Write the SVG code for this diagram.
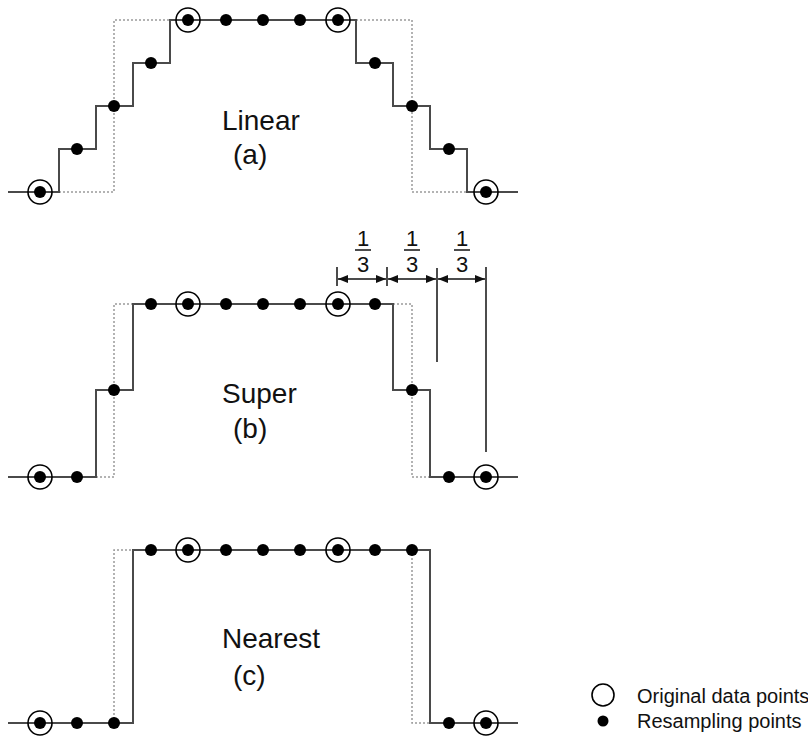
<svg xmlns="http://www.w3.org/2000/svg" width="808" height="736" viewBox="0 0 808 736">
<defs>
<style>
.step{fill:none;stroke:#4a4a4a;stroke-width:2}
.dot{fill:none;stroke:#9a9a9a;stroke-width:1.5;stroke-dasharray:2 2}
.orig{fill:none;stroke:#000;stroke-width:1.6}
.res{fill:#000}
.lbl{font-family:"Liberation Sans",Arial,sans-serif;font-size:28px;fill:#111}
.frac{font-family:"Liberation Sans",Arial,sans-serif;font-size:22px;fill:#111;text-anchor:middle}
.leg{font-family:"Liberation Sans",Arial,sans-serif;font-size:20px;fill:#111}
.dim{stroke:#111;stroke-width:1.5;fill:none}
</style>
<marker id="ah" viewBox="0 0 10 8" refX="10" refY="4" markerWidth="10" markerHeight="8" markerUnits="userSpaceOnUse" orient="auto-start-reverse">
<path d="M0,0 L10,4 L0,8 z" fill="#111"/>
</marker>
</defs>
<rect width="808" height="736" fill="#fff"/>

<g id="connectors">
<!-- panel a -->
<path class="dot" d="M59,192 H114 V20 H170 M356,20 H412 V192 H467"/>
<path class="step" d="M8,192 H59 V149 H96 V106 H133 V63 H170 V20 H356 V63 H393 V106 H430 V149 H467 V192 H518"/>
<!-- panel b -->
<path class="dot" d="M96,477 H114 V304 H133 M393,304 H412 V477 H430"/>
<path class="step" d="M8,477 H96 V390 H133 V304 H393 V390 H430 V477 H518"/>
<!-- panel c -->
<path class="dot" d="M114,723 V550 H133 M412,550 V723 H430"/>
<path class="step" d="M8,723 H133 V550 H430 V723 H518"/>
</g>

<g id="panel-a">
<circle class="orig" cx="40" cy="192" r="12"/><circle class="orig" cx="188" cy="20" r="12"/><circle class="orig" cx="338" cy="20" r="12"/><circle class="orig" cx="486" cy="192" r="12"/>
<circle class="res" cx="40" cy="192" r="6"/><circle class="res" cx="77" cy="149" r="6"/><circle class="res" cx="114" cy="106" r="6"/><circle class="res" cx="151" cy="63" r="6"/><circle class="res" cx="188" cy="20" r="6"/><circle class="res" cx="226" cy="20" r="6"/><circle class="res" cx="263" cy="20" r="6"/><circle class="res" cx="300" cy="20" r="6"/><circle class="res" cx="338" cy="20" r="6"/><circle class="res" cx="375" cy="63" r="6"/><circle class="res" cx="412" cy="106" r="6"/><circle class="res" cx="449" cy="149" r="6"/><circle class="res" cx="486" cy="192" r="6"/>
<text class="lbl" x="222" y="130">Linear</text>
<text class="lbl" x="233" y="164">(a)</text>
</g>

<g id="panel-b">
<circle class="orig" cx="40" cy="477" r="12"/><circle class="orig" cx="188" cy="304" r="12"/><circle class="orig" cx="338" cy="304" r="12"/><circle class="orig" cx="486" cy="477" r="12"/>
<circle class="res" cx="40" cy="477" r="6"/><circle class="res" cx="77" cy="477" r="6"/><circle class="res" cx="114" cy="390" r="6"/><circle class="res" cx="151" cy="304" r="6"/><circle class="res" cx="188" cy="304" r="6"/><circle class="res" cx="226" cy="304" r="6"/><circle class="res" cx="263" cy="304" r="6"/><circle class="res" cx="300" cy="304" r="6"/><circle class="res" cx="338" cy="304" r="6"/><circle class="res" cx="375" cy="304" r="6"/><circle class="res" cx="412" cy="390" r="6"/><circle class="res" cx="449" cy="477" r="6"/><circle class="res" cx="486" cy="477" r="6"/>
<text class="lbl" x="222" y="403">Super</text>
<text class="lbl" x="233" y="438">(b)</text>
</g>

<g id="dimensions">
<line class="dim" x1="337" y1="267" x2="337" y2="286"/>
<line class="dim" x1="387" y1="267" x2="387" y2="286"/>
<line class="dim" x1="437" y1="268" x2="437" y2="362"/>
<line class="dim" x1="486" y1="267" x2="486" y2="452"/>
<line class="dim" x1="338" y1="279" x2="386" y2="279" marker-start="url(#ah)" marker-end="url(#ah)"/>
<line class="dim" x1="388" y1="279" x2="436" y2="279" marker-start="url(#ah)" marker-end="url(#ah)"/>
<line class="dim" x1="438" y1="279" x2="485" y2="279" marker-start="url(#ah)" marker-end="url(#ah)"/>
<text class="frac" x="363" y="246">1</text><line class="dim" x1="355" y1="250" x2="371" y2="250"/><text class="frac" x="363" y="272">3</text>
<text class="frac" x="412" y="246">1</text><line class="dim" x1="404" y1="250" x2="420" y2="250"/><text class="frac" x="412" y="272">3</text>
<text class="frac" x="462" y="246">1</text><line class="dim" x1="454" y1="250" x2="470" y2="250"/><text class="frac" x="462" y="272">3</text>
</g>

<g id="panel-c">
<circle class="orig" cx="40" cy="723" r="12"/><circle class="orig" cx="188" cy="550" r="12"/><circle class="orig" cx="338" cy="550" r="12"/><circle class="orig" cx="486" cy="723" r="12"/>
<circle class="res" cx="40" cy="723" r="6"/><circle class="res" cx="77" cy="723" r="6"/><circle class="res" cx="114" cy="723" r="6"/><circle class="res" cx="151" cy="550" r="6"/><circle class="res" cx="188" cy="550" r="6"/><circle class="res" cx="226" cy="550" r="6"/><circle class="res" cx="263" cy="550" r="6"/><circle class="res" cx="300" cy="550" r="6"/><circle class="res" cx="338" cy="550" r="6"/><circle class="res" cx="375" cy="550" r="6"/><circle class="res" cx="412" cy="550" r="6"/><circle class="res" cx="449" cy="723" r="6"/><circle class="res" cx="486" cy="723" r="6"/>
<text class="lbl" x="222" y="648">Nearest</text>
<text class="lbl" x="233" y="685">(c)</text>
</g>

<g id="legend">
<circle class="orig" cx="603" cy="695" r="11"/>
<text class="leg" x="637" y="703">Original data points</text>
<circle class="res" cx="603" cy="721" r="5.5"/>
<text class="leg" x="637" y="728">Resampling points</text>
</g>
</svg>
